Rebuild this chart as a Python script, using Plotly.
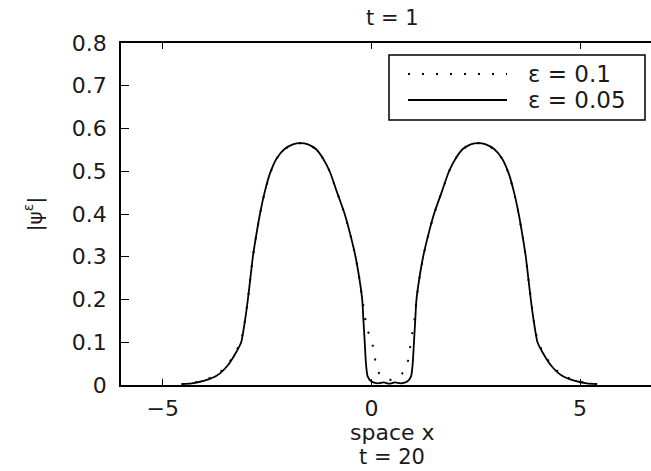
import plotly.graph_objects as go

# |psi^eps| profiles at t = 1 for two values of epsilon
x_eps_005 = [-4.55, -4.3, -4.0, -3.7, -3.45, -3.25, -3.12, -3.03, -2.96, -2.9,
             -2.84, -2.76, -2.67, -2.56, -2.43, -2.27, -2.08, -1.88, -1.7, -1.52,
             -1.33, -1.16, -1.0, -0.82, -0.64, -0.5, -0.38, -0.29, -0.22, -0.19,
             -0.16, -0.13, -0.09, 0.0, 0.15, 0.3, 0.43, 0.56, 0.71, 0.86,
             0.95, 0.99, 1.02, 1.05, 1.08, 1.15, 1.24, 1.36, 1.50, 1.68,
             1.86, 2.02, 2.19, 2.38, 2.56, 2.74, 2.94, 3.13, 3.29, 3.42,
             3.53, 3.62, 3.70, 3.76, 3.82, 3.89, 3.98, 4.11, 4.31, 4.56,
             4.86, 5.16, 5.41]
y_eps_005 = [0.002, 0.004, 0.01, 0.022, 0.045, 0.075, 0.10, 0.15, 0.2, 0.25,
             0.3, 0.35, 0.4, 0.45, 0.495, 0.53, 0.552, 0.563, 0.566, 0.563,
             0.552, 0.53, 0.50, 0.45, 0.40, 0.35, 0.30, 0.25, 0.20, 0.15,
             0.10, 0.05, 0.02, 0.008, 0.004, 0.006, 0.003, 0.006, 0.004, 0.008,
             0.02, 0.05, 0.10, 0.15, 0.20, 0.25, 0.30, 0.35, 0.40, 0.45,
             0.50, 0.53, 0.552, 0.563, 0.566, 0.563, 0.552, 0.53, 0.495, 0.45,
             0.4, 0.35, 0.3, 0.25, 0.2, 0.15, 0.10, 0.075, 0.045, 0.022,
             0.01, 0.004, 0.002]

x_eps_01 = [-4.55, -4.3, -4.0, -3.7, -3.45, -3.25, -3.12, -3.03, -2.96, -2.9,
            -2.84, -2.76, -2.67, -2.56, -2.43, -2.27, -2.08, -1.88, -1.7, -1.52,
            -1.33, -1.16, -1.0, -0.82, -0.64, -0.5, -0.38, -0.29, -0.22, -0.17,
            -0.11, 0.0, 0.1, 0.18, 0.3, 0.45, 0.62, 0.8, 0.88, 0.97,
            1.03, 1.08, 1.15, 1.24, 1.36, 1.50, 1.68, 1.86, 2.02, 2.19,
            2.38, 2.56, 2.74, 2.94, 3.13, 3.29, 3.42, 3.53, 3.62, 3.70,
            3.76, 3.82, 3.89, 3.98, 4.11, 4.31, 4.56, 4.86, 5.16, 5.41]
y_eps_01 = [0.002, 0.004, 0.011, 0.023, 0.046, 0.077, 0.102, 0.15, 0.2, 0.25,
            0.3, 0.35, 0.4, 0.45, 0.495, 0.53, 0.552, 0.563, 0.566, 0.563,
            0.552, 0.53, 0.50, 0.45, 0.40, 0.35, 0.30, 0.25, 0.20, 0.16,
            0.13, 0.11, 0.054, 0.028, 0.016, 0.012, 0.016, 0.033, 0.058, 0.115,
            0.15, 0.20, 0.25, 0.30, 0.35, 0.40, 0.45, 0.50, 0.53, 0.552,
            0.563, 0.566, 0.563, 0.552, 0.53, 0.495, 0.45, 0.4, 0.35, 0.3,
            0.25, 0.2, 0.15, 0.102, 0.077, 0.046, 0.023, 0.011, 0.004, 0.002]

legend_labels = ["\u03b5 = 0.1", "\u03b5 = 0.05"]
x_ticks = [-5, 0, 5]
y_ticks = [0, 0.1, 0.2, 0.3, 0.4, 0.5, 0.6, 0.7, 0.8]

FONT = "DejaVu Sans"
INK = "#1a1a1a"
W, H = 651, 471
ML, MR, MT, MB = 121, 0, 43, 86

fig = go.Figure()
fig.add_trace(go.Scatter(x=x_eps_01, y=y_eps_01, mode="lines", name=legend_labels[0],
                         line=dict(color="black", width=2, dash="2px,12px"),
                         showlegend=False))
fig.add_trace(go.Scatter(x=x_eps_005, y=y_eps_005, mode="lines", name=legend_labels[1],
                         line=dict(color="black", width=1.8, shape="spline", smoothing=0.6),
                         showlegend=False))

# boxed legend in the upper right corner of the axes
pw, ph = W - ML - MR, H - MT - MB
def px(xp):
    return (xp - ML) / pw
def py(yp):
    return (H - MB - yp) / ph

fig.add_shape(type="rect", xref="paper", yref="paper",
              x0=px(389), x1=px(645), y0=py(120), y1=py(55),
              line=dict(color="black", width=1.5), fillcolor="white", layer="above")
fig.add_shape(type="line", xref="paper", yref="paper",
              x0=px(408), x1=px(507), y0=py(74), y1=py(74),
              line=dict(color="black", width=2, dash="2px,12px"), layer="above")
fig.add_shape(type="line", xref="paper", yref="paper",
              x0=px(408), x1=px(507), y0=py(100), y1=py(100),
              line=dict(color="black", width=1.8), layer="above")
for lbl, yy in zip(legend_labels, [74, 100]):
    fig.add_annotation(xref="paper", yref="paper", x=px(526), y=py(yy),
                       text=lbl, showarrow=False, xanchor="left", yanchor="middle",
                       font=dict(family=FONT, size=23, color=INK))

# titles above and below the axes
fig.add_annotation(xref="paper", yref="paper", x=px(392), y=1, yshift=25,
                   text="t = 1", showarrow=False, xanchor="center", yanchor="middle",
                   font=dict(family=FONT, size=21, color=INK))
fig.add_annotation(xref="paper", yref="paper", x=px(392), y=0, yshift=-47,
                   text="space x", showarrow=False, xanchor="center", yanchor="middle",
                   font=dict(family=FONT, size=22, color=INK))
fig.add_annotation(xref="paper", yref="paper", x=px(392), y=0, yshift=-72,
                   text="t = 20", showarrow=False, xanchor="center", yanchor="middle",
                   font=dict(family=FONT, size=21, color=INK))

fig.update_layout(
    width=W, height=H,
    margin=dict(l=ML, r=MR, t=MT, b=MB, pad=0),
    paper_bgcolor="white", plot_bgcolor="white",
    font=dict(family=FONT, size=22, color=INK),
)
fig.update_xaxes(range=[-6, 6.7], tickvals=x_ticks, ticks="inside", ticklen=6,
                 tickwidth=1.2, tickcolor="black", showline=True, linecolor="black",
                 linewidth=1.8, mirror="ticks", showgrid=False, zeroline=False,
                 tickfont=dict(family=FONT, size=22, color=INK), ticklabelstandoff=3)
fig.update_yaxes(range=[0, 0.8], tickvals=y_ticks, ticks="inside", ticklen=8,
                 tickwidth=1.2, tickcolor="black", showline=True, linecolor="black",
                 linewidth=1.8, mirror=False, showgrid=False, zeroline=False,
                 tickfont=dict(family=FONT, size=22, color=INK), ticklabelstandoff=8,
                 title=dict(text="|\u03c8<sup>\u03b5</sup>|", standoff=24,
                            font=dict(family=FONT, size=20, color=INK)))

fig.write_html("out.html")
